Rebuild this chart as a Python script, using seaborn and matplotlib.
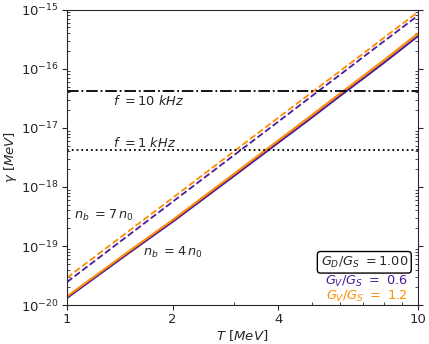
import matplotlib
matplotlib.use("Agg")
import matplotlib.pyplot as plt
import matplotlib.ticker as mticker
import numpy as np
import pandas as pd
import seaborn as sns

# temperatures [MeV]
T = [1, 1.5, 2, 3, 4, 5, 6, 7, 8, 10]

# gamma [MeV]
g_nb4_gv06 = [1.32e-20, 7.6e-20, 2.57e-19, 1.55e-18, 5.6e-18,
              1.51e-17, 3.47e-17, 6.9e-17, 1.26e-16, 3.55e-16]
g_nb4_gv12 = [1.40e-20, 8.1e-20, 2.75e-19, 1.68e-18, 6.1e-18,
              1.66e-17, 3.8e-17, 7.6e-17, 1.39e-16, 3.95e-16]
g_nb7_gv06 = [2.45e-20, 1.53e-19, 5.6e-19, 3.48e-18, 1.27e-17,
              3.49e-17, 7.9e-17, 1.59e-16, 2.9e-16, 7.9e-16]
g_nb7_gv12 = [2.9e-20, 1.79e-19, 6.5e-19, 4.05e-18, 1.48e-17,
              4.03e-17, 9.1e-17, 1.82e-16, 3.33e-16, 9.1e-16]

# frequency thresholds, gamma = h f
f_khz = [10, 1]
gamma_f = [4.1357e-17, 4.1357e-18]

colors = {'0.6': '#4b1c9a', '1.2': '#ff8c00'}

frames = []
for nb, gv, vals in [('4', '0.6', g_nb4_gv06), ('4', '1.2', g_nb4_gv12),
                     ('7', '0.6', g_nb7_gv06), ('7', '1.2', g_nb7_gv12)]:
    frames.append(pd.DataFrame({'T': T, 'gamma': vals, 'nb': nb, 'GV': gv}))
df = pd.concat(frames, ignore_index=True)

sns.set_style('ticks')
plt.rcParams['font.family'] = ['DejaVu Sans']

fig = plt.figure(figsize=(4.29, 3.44), dpi=100)
ax = fig.add_axes([0.156, 0.113, 0.818, 0.859])

for (nb, gv), sub in df.groupby(['nb', 'GV']):
    sns.lineplot(data=sub, x='T', y='gamma', ax=ax, color=colors[gv],
                 ls='-' if nb == '4' else '--',
                 lw=1.5 if nb == '4' else 1.3, legend=False)

ax.axhline(gamma_f[0], color='k', ls='-.', lw=1.3)
ax.axhline(gamma_f[1], color='k', ls=':', lw=1.3)

ax.set_xscale('log')
ax.set_yscale('log')
ax.set_xlim(1, 10)
ax.set_ylim(1e-20, 1e-15)

fs = 9.3
ax.text(1.35, 2.9e-17, rf"$f\ = {f_khz[0]}\ kHz$", fontsize=fs, va='center')
ax.text(1.35, 5.5e-18, rf"$f\ = {f_khz[1]}\ kHz$", fontsize=fs, va='center')
ax.text(1.05, 3.35e-19, r"$n_b\ = 7\,n_0$", fontsize=fs, va='center')
ax.text(1.65, 7.9e-20, r"$n_b\ = 4\,n_0$", fontsize=fs, va='center')

ax.text(0.972, 0.145, r"$G_D/G_S\ = 1.00$", transform=ax.transAxes,
        ha='right', va='center', fontsize=fs,
        bbox=dict(boxstyle='round,pad=0.25', fc='white', ec='black'))
ax.text(0.972, 0.081, r"$G_V/G_S\ =\ 0.6$", transform=ax.transAxes,
        ha='right', va='center', fontsize=fs, color=colors['0.6'])
ax.text(0.972, 0.030, r"$G_V/G_S\ =\ 1.2$", transform=ax.transAxes,
        ha='right', va='center', fontsize=fs, color=colors['1.2'])

ax.xaxis.set_major_locator(mticker.FixedLocator([1, 2, 4, 10]))
ax.xaxis.set_major_formatter(mticker.FixedFormatter(['1', '2', '4', '10']))
ax.xaxis.set_minor_locator(mticker.LogLocator(base=10, subs=np.arange(2, 10)))
ax.xaxis.set_minor_formatter(mticker.NullFormatter())
ax.yaxis.set_minor_locator(mticker.LogLocator(base=10, subs=np.arange(2, 10), numticks=20))
ax.yaxis.set_minor_formatter(mticker.NullFormatter())

ax.tick_params(which='major', direction='out', length=3.5, labelsize=9.5, pad=2.5)
ax.tick_params(which='minor', direction='in', length=2)
ax.tick_params(axis='y', which='both', right=True)

ax.set_xlabel(r"$T\ [MeV]$", fontsize=9.5, labelpad=1)
ax.set_ylabel(r"$\gamma\ [MeV]$", fontsize=9.5, labelpad=1)

fig.savefig('out.png', dpi=100)
